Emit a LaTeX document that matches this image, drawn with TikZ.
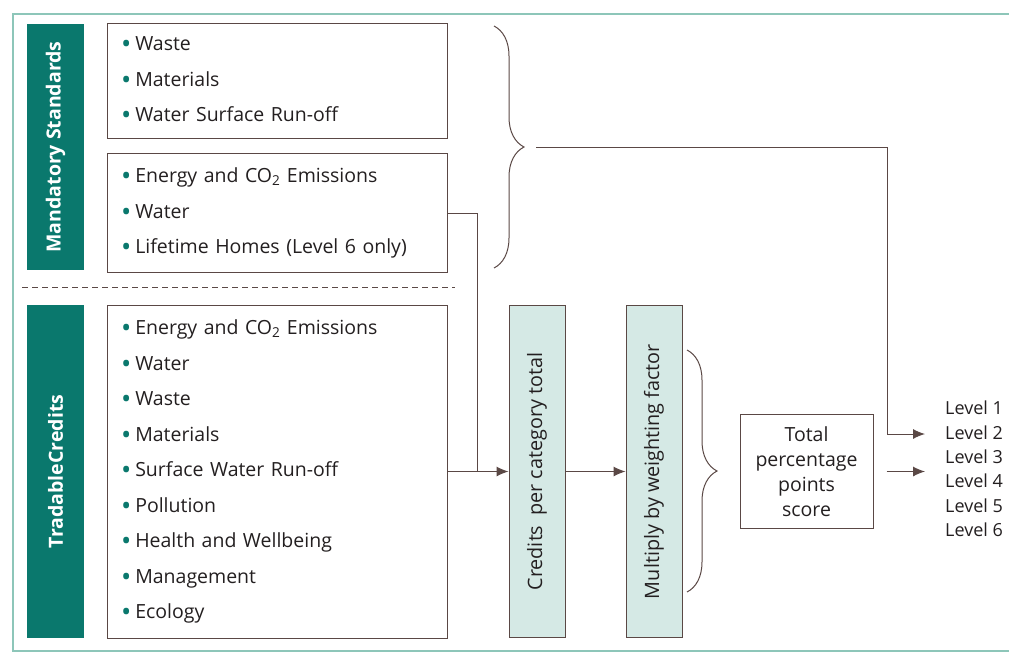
\documentclass[tikz,border=0pt]{standalone}
\usepackage{fontspec}
\setmainfont{Open Sans}
\usetikzlibrary{arrows.meta,decorations.pathreplacing}
\definecolor{tealdark}{HTML}{0A786D}
\definecolor{teallight}{HTML}{D5E9E5}
\definecolor{linec}{HTML}{5A4845}
\definecolor{framec}{HTML}{8DC6B9}
\definecolor{textc}{HTML}{231F20}
\newcommand{\itm}[1]{{\color{tealdark}\raisebox{-3pt}{\scalebox{1.4}{\textbullet}}}\hspace{4pt}#1}
\begin{document}
\begin{tikzpicture}[>={Latex[length=12pt,width=10pt]}, x=1pt, y=-1pt,
    every node/.style={text=textc},
    tealbox/.style={fill=tealdark, text=white, rotate=90, inner sep=0,
        font=\bfseries\fontsize{19.5}{22}\selectfont},
    listbox/.style={draw=linec, line width=1pt, align=left, inner sep=14pt,
        font=\fontsize{19.5}{35.5}\selectfont},
    sumbox/.style={draw=linec, line width=1pt, fill=teallight, rotate=90,
        inner sep=0, minimum width=332, minimum height=56,
        font=\fontsize{19.8}{20}\selectfont},
    wire/.style={draw=linec, line width=1pt},
    curly/.style={draw=linec, line width=1pt,
        decorate, decoration={brace, amplitude=30pt}}]
    % Рамка
    \useasboundingbox (0,0) rectangle (1009,659);
    \draw[framec, line width=1.2pt] (1009,14) -- (13,14) -- (13,651) -- (1009,651);

    % Левые полосы
    \node[tealbox, minimum width=246, minimum height=57] (mand) at (55.5,147)
    {Mandatory Standards};
    \node[tealbox, minimum width=333, minimum height=57] (trad) at (55.5,471.5)
    {TradableCredits};

    % Списки
    \node[listbox, text width=312, minimum height=114] (ms1) at (277,81)
    {\itm{Waste}\\ \itm{Materials}\\ \itm{Water Surface Run-off}};
    \node[listbox, text width=312, minimum height=112] (ms2) at (277,213)
    {\itm{Energy and CO\textsubscript{2} Emissions}\\ \itm{Water}\\
     \itm{Lifetime Homes (Level 6 only)}};
    \node[listbox, text width=312, minimum height=333] (tc) at (277,471.5)
    {\itm{Energy and CO\textsubscript{2} Emissions}\\ \itm{Water}\\ \itm{Waste}\\
     \itm{Materials}\\ \itm{Surface Water Run-off}\\ \itm{Pollution}\\
     \itm{Health and Wellbeing}\\ \itm{Management}\\ \itm{Ecology}};
    \draw[linec, line width=1pt, dash pattern=on 6pt off 4pt] (22,287) -- (455,287);

    % Столбцы
    \node[sumbox] (cred) at (537,471.5) {Credits\hspace{10pt}per category total};
    \node[sumbox] (mult) at (654,471.5) {Multiply by weighting factor};
    \node[draw=linec, line width=1pt, minimum width=133, minimum height=114,
    align=center, font=\fontsize{19.5}{25}\selectfont] (total) at (806.5,471.5)
    {Total\\percentage\\points\\score};
    \node[anchor=west, align=left, inner sep=0,
    font=\fontsize{18}{24.4}\selectfont] (levels) at (945,469)
    {Level 1\\Level 2\\Level 3\\Level 4\\Level 5\\Level 6};

    % Связи
    \coordinate (jn) at (477,471.5);
    \coordinate (bt) at (536,147);
    \coordinate (turn) at (887,434);
    \coordinate (lev2) at (925,434);
    \coordinate (lev3) at (925,471.5);
    \draw[wire] (ms2.east) -| (jn);
    \draw[wire, ->] (tc.east) -- (cred.north);
    \draw[wire, ->] (cred.south) -- (mult.north);
    \draw[wire, ->] (bt) -| (turn) -- (lev2);
    \draw[wire, ->] ([xshift=13pt]total.east) -- (lev3);

    % Скобки
    \draw[curly] (494,26) -- (494,268);
    \draw[curly] (687,350) -- (687,592);
\end{tikzpicture}
\end{document}
